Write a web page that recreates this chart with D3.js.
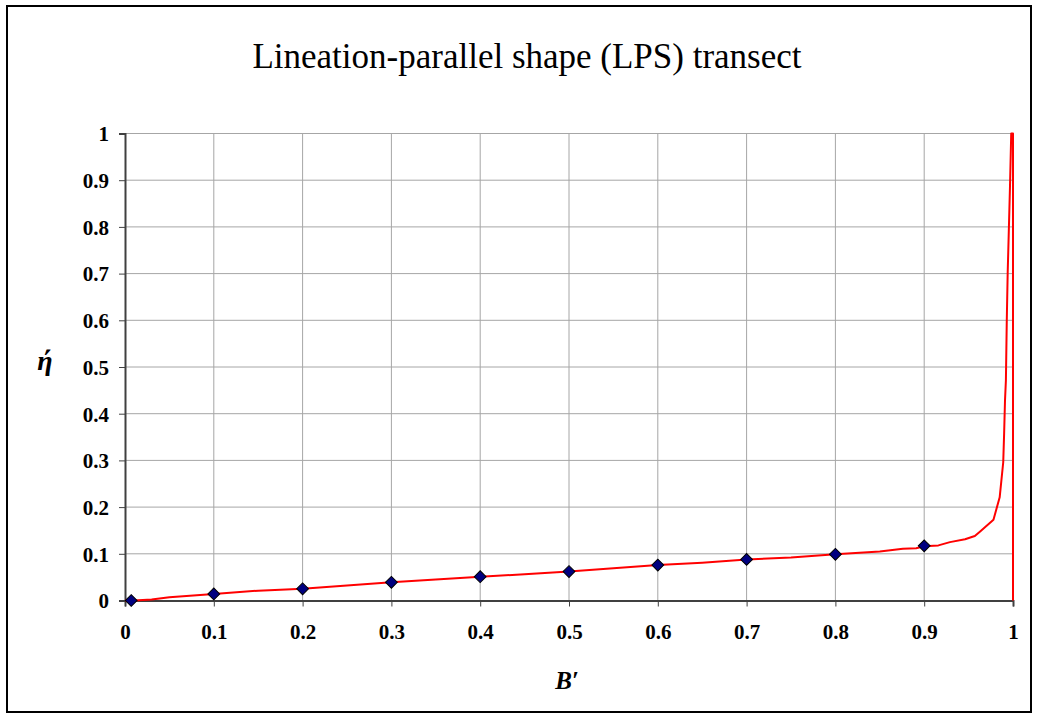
<!DOCTYPE html>
<html>
<head>
<meta charset="utf-8">
<script src="https://cdn.jsdelivr.net/npm/d3@7"></script>
<style>
  html, body { margin: 0; padding: 0; background: #fff; }
  svg { display: block; }
  text { font-family: "Liberation Serif", "Times New Roman", serif; }
</style>
</head>
<body>
<svg id="chart" width="1039" height="719"></svg>
<script>
// Marker series: transect sample points
const markerB   = [0.007, 0.1, 0.2, 0.3, 0.4, 0.5, 0.6, 0.7, 0.8, 0.9];
const markerEta = [0.0, 0.014, 0.025, 0.039, 0.051, 0.062, 0.076, 0.088, 0.099, 0.117];

// Continuous LPS curve
const curveB   = [0, 0.01, 0.03, 0.05, 0.1, 0.15, 0.2, 0.25, 0.3, 0.35, 0.4, 0.45, 0.5, 0.55, 0.6, 0.65, 0.7, 0.75, 0.8, 0.85, 0.876, 0.891, 0.9, 0.916, 0.929, 0.946, 0.957, 0.963, 0.978, 0.985, 0.989, 0.990, 0.991, 0.992, 0.993, 0.994, 0.9966, 0.998, 1.0, 1.0];
const curveEta = [0, 0.0, 0.002, 0.007, 0.014, 0.021, 0.025, 0.032, 0.039, 0.045, 0.051, 0.056, 0.062, 0.069, 0.076, 0.081, 0.088, 0.092, 0.099, 0.105, 0.111, 0.112, 0.116, 0.118, 0.125, 0.131, 0.138, 0.148, 0.173, 0.221, 0.296, 0.357, 0.429, 0.471, 0.600, 0.700, 0.886, 1.0, 1.0, 0.0];

const xTicks = [0, 0.1, 0.2, 0.3, 0.4, 0.5, 0.6, 0.7, 0.8, 0.9, 1];
const yTicks = [0, 0.1, 0.2, 0.3, 0.4, 0.5, 0.6, 0.7, 0.8, 0.9, 1];

const titleText = "Lineation-parallel shape (LPS) transect";
const xLabel = "B\u2032";
const yLabel = "\u03AE";

const serif = "Liberation Serif, Times New Roman, serif";
const svg = d3.select("#chart");

// Outer chart frame
svg.append("rect")
  .attr("x", 7).attr("y", 6).attr("width", 1024).attr("height", 706)
  .attr("fill", "#fff").attr("stroke", "#000").attr("stroke-width", 2);

const plot = { left: 125, right: 1013, top: 133.5, bottom: 600.5 };

const x = d3.scaleLinear().domain([0, 1]).range([plot.left, plot.right]);
const y = d3.scaleLinear().domain([0, 1]).range([plot.bottom, plot.top]);

// Gridlines
const grid = svg.append("g");
grid.selectAll("line.gx").data(xTicks.slice(1)).join("line")
  .attr("x1", d => x(d)).attr("x2", d => x(d))
  .attr("y1", plot.top).attr("y2", plot.bottom)
  .attr("stroke", "#a6a6a6").attr("stroke-width", 1);
grid.selectAll("line.gy").data(yTicks.slice(1)).join("line")
  .attr("x1", plot.left).attr("x2", plot.right)
  .attr("y1", d => y(d)).attr("y2", d => y(d))
  .attr("stroke", "#a6a6a6").attr("stroke-width", 1);

// Axes
const xAxis = d3.axisBottom(x).tickValues(xTicks).tickFormat(d3.format("")).tickSize(6).tickPadding(18);
const yAxis = d3.axisLeft(y).tickValues(yTicks).tickFormat(d3.format("")).tickSize(6).tickPadding(10);

const gx = svg.append("g").attr("transform", `translate(0,${plot.bottom})`).call(xAxis);
const gy = svg.append("g").attr("transform", `translate(${plot.left},0)`).call(yAxis);

[gx, gy].forEach(g => {
  g.attr("font-family", serif).attr("font-size", 21).attr("font-weight", "bold");
  g.select(".domain").attr("stroke", "#404040").attr("stroke-width", 2);
  g.selectAll(".tick line").attr("stroke", "#404040").attr("stroke-width", 1);
  g.selectAll(".tick text").attr("fill", "#000");
});
gy.selectAll(".tick text").attr("dy", "0.35em");

// Curve
const line = d3.line().x(d => x(d[0])).y(d => y(d[1]));
svg.append("path")
  .datum(d3.zip(curveB, curveEta))
  .attr("d", line)
  .attr("fill", "none")
  .attr("stroke", "#ff0000")
  .attr("stroke-width", 2)
  .attr("stroke-linejoin", "round");

// Diamond markers
const diamond = d3.symbol().type(d3.symbolSquare).size(70);
svg.append("g").selectAll("path")
  .data(d3.zip(markerB, markerEta))
  .join("path")
  .attr("d", diamond)
  .attr("transform", d => `translate(${x(d[0])},${y(d[1])}) rotate(45)`)
  .attr("fill", "#000080")
  .attr("stroke", "#000")
  .attr("stroke-width", 1);

// Title
svg.append("text")
  .attr("x", 527).attr("y", 68)
  .attr("text-anchor", "middle")
  .attr("font-family", serif)
  .attr("font-size", 35)
  .text(titleText);

// Axis titles
svg.append("text")
  .attr("x", 567).attr("y", 689)
  .attr("text-anchor", "middle")
  .attr("font-family", serif)
  .attr("font-weight", "bold")
  .attr("font-style", "italic")
  .attr("font-size", 25)
  .text(xLabel);

svg.append("text")
  .attr("x", 45).attr("y", 370)
  .attr("text-anchor", "middle")
  .attr("font-family", serif)
  .attr("font-weight", "bold")
  .attr("font-style", "italic")
  .attr("font-size", 28)
  .text(yLabel);
</script>
</body>
</html>
